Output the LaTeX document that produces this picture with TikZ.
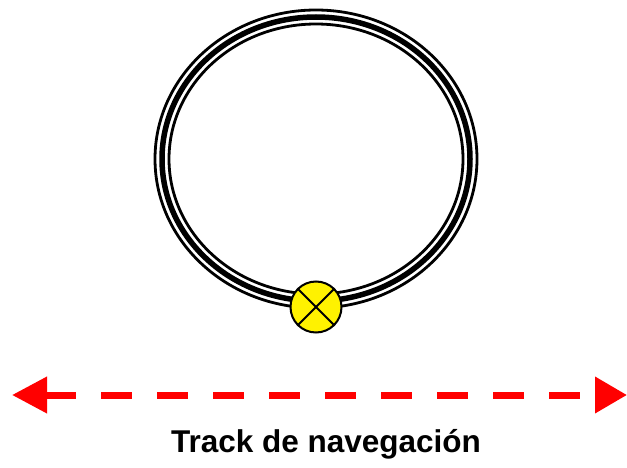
\documentclass[tikz,border=0pt]{standalone}
\usepackage{fontspec}
\setmainfont{Liberation Sans}
\usetikzlibrary{arrows.meta}
\tikzset{
  ringline/.style={draw=black},
  sensor/.style={circle, draw=black, line width=2pt, fill=yellow, minimum size=51pt, inner sep=0pt},
  track/.style={draw=red, line width=7pt, dash pattern=on 31pt off 25pt,
    {Triangle[width=35pt,length=35pt]}-{Triangle[width=35pt,length=32pt]}},
  label/.style={font=\bfseries\fontsize{31.5}{36}\selectfont, text=black}
}
\begin{document}
\begin{tikzpicture}[x=1pt,y=-1pt]
\useasboundingbox (0,0) rectangle (627,468);
% ring
\draw[ringline, line width=2.8pt] (316,159) ellipse [x radius=161pt, y radius=149pt];
\draw[ringline, line width=5.5pt] (316,159) ellipse [x radius=154pt, y radius=142pt];
\draw[ringline, line width=2.8pt] (316,159) ellipse [x radius=147pt, y radius=135pt];
% sensor
\node[sensor] (s) at (316,307) {};
\draw[line width=2pt] (s.north west) -- (s.south east);
\draw[line width=2pt] (s.north east) -- (s.south west);
% track arrow
\coordinate (L) at (12,395);
\coordinate (R) at (627,395);
\draw[track] (L) -- (R);
\node[label] (t) at (326,444) {Track de navegación};
\end{tikzpicture}
\end{document}
